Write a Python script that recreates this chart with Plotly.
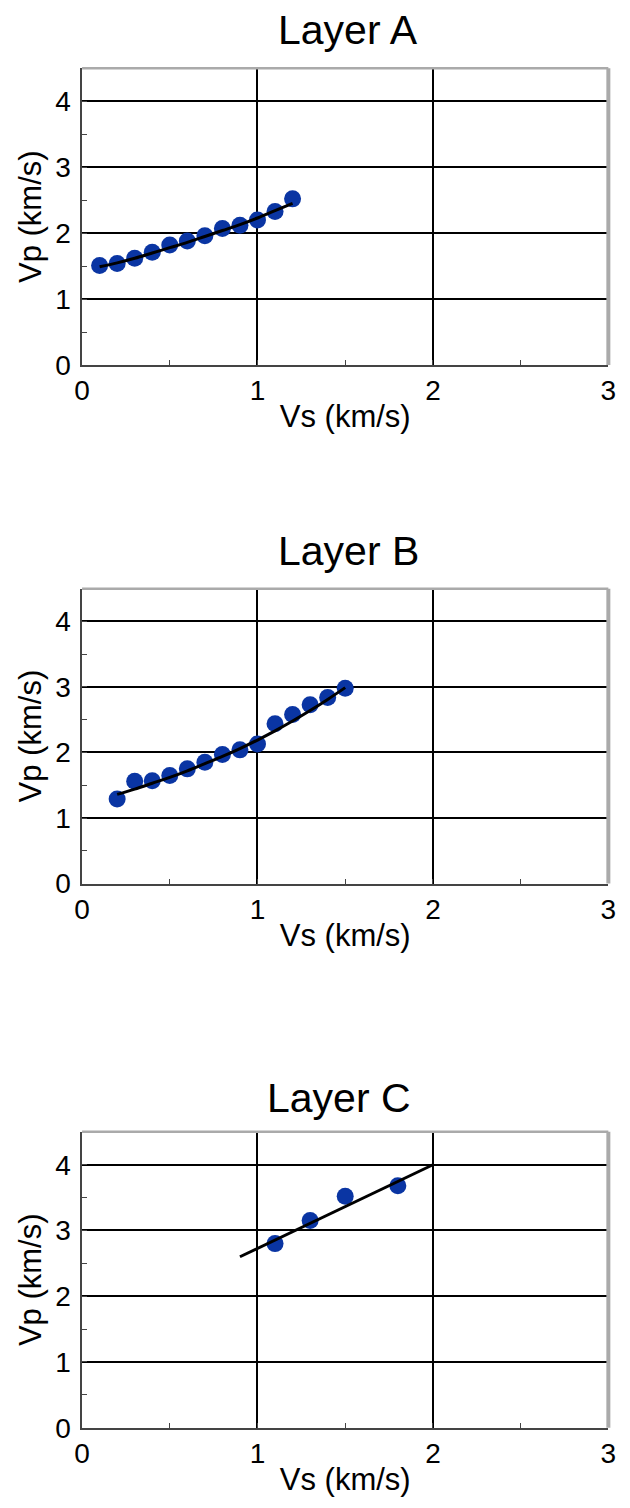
import plotly.graph_objects as go
from plotly.subplots import make_subplots

# ---- data ----
layer_names = ["Layer A", "Layer B", "Layer C"]

vs_a = [0.1, 0.2, 0.3, 0.4, 0.5, 0.6, 0.7, 0.8, 0.9, 1.0, 1.1, 1.2]
vp_a = [1.51, 1.54, 1.62, 1.71, 1.82, 1.88, 1.96, 2.07, 2.12, 2.20, 2.33, 2.52]
fit_vs_a = [0.1, 0.2, 0.3, 0.4, 0.5, 0.6, 0.7, 0.8, 0.9, 1.0, 1.1, 1.2]
fit_vp_a = [1.49, 1.55, 1.62, 1.70, 1.78, 1.86, 1.95, 2.04, 2.13, 2.23, 2.34, 2.45]

vs_b = [0.2, 0.3, 0.4, 0.5, 0.6, 0.7, 0.8, 0.9, 1.0, 1.1, 1.2, 1.3, 1.4, 1.5]
vp_b = [1.29, 1.56, 1.57, 1.65, 1.75, 1.85, 1.97, 2.04, 2.13, 2.44, 2.58, 2.73, 2.84, 2.98]
fit_vs_b = [0.2, 0.3, 0.4, 0.5, 0.6, 0.7, 0.8, 0.9, 1.0, 1.1, 1.2, 1.3, 1.4, 1.5]
fit_vp_b = [1.36, 1.44, 1.53, 1.62, 1.72, 1.83, 1.94, 2.06, 2.19, 2.33, 2.48, 2.64, 2.81, 2.99]

vs_c = [1.1, 1.3, 1.5, 1.8]
vp_c = [2.80, 3.15, 3.52, 3.68]
fit_vs_c = [0.9, 2.0]
fit_vp_c = [2.60, 4.00]

x_range = [0, 3]
y_range = [0, 4.5]
x_ticks = [0, 1, 2, 3]
y_ticks = [0, 1, 2, 3, 4]
x_title = "Vs (km/s)"
y_title = "Vp (km/s)"

W, H = 630, 1508
FONT = "Liberation Sans, Arial, Helvetica, sans-serif"
MARK = "#0a35a3"
AXC = "#444444"

# plot-area pixel boxes (top, bottom), title centre x, title gap
boxes = [(69, 369), (595, 893), (1144, 1443)]
title_cx = [349, 349, 340]
title_shift = [13, 13, 9]
x_left, x_right = 76, 616

fig = make_subplots(rows=3, cols=1)

series = [(vs_a, vp_a, fit_vs_a, fit_vp_a),
          (vs_b, vp_b, fit_vs_b, fit_vp_b),
          (vs_c, vp_c, fit_vs_c, fit_vp_c)]

for i, (sx, sy, fx, fy) in enumerate(series):
    r = i + 1
    fig.add_trace(go.Scatter(x=sx, y=sy, mode="markers",
                             marker=dict(color=MARK, size=17, line=dict(width=0)),
                             showlegend=False, hoverinfo="skip", cliponaxis=False), row=r, col=1)
    fig.add_trace(go.Scatter(x=fx, y=fy, mode="lines",
                             line=dict(color="black", width=3, shape="spline"),
                             showlegend=False, hoverinfo="skip"), row=r, col=1)

annotations = []
shapes = []
for i, (top, bot) in enumerate(boxes):
    r = i + 1
    dom_y = [1 - bot / H, 1 - top / H]
    dom_x = [x_left / W, x_right / W]
    xa = "xaxis" if r == 1 else f"xaxis{r}"
    ya = "yaxis" if r == 1 else f"yaxis{r}"
    fig.layout[xa].update(
        domain=dom_x, range=x_range, tickvals=x_ticks, ticktext=[str(v) for v in x_ticks],
        showgrid=True, gridcolor="black", gridwidth=2, zeroline=False,
        showline=True, linecolor=AXC, linewidth=1.5,
        ticks="inside", ticklen=5, tickcolor=AXC, tickwidth=1.2,
        minor=dict(dtick=0.5, ticks="inside", ticklen=5, tickcolor=AXC, tickwidth=1.2, showgrid=False),
        tickfont=dict(family=FONT, size=28, color="black"),
        ticklabelstandoff=0,
        title=dict(text=x_title, font=dict(family=FONT, size=31, color="black"), standoff=0),
        fixedrange=True,
    )
    fig.layout[ya].update(
        domain=dom_y, range=y_range, tickvals=y_ticks, ticktext=[str(v) for v in y_ticks],
        showgrid=True, gridcolor="black", gridwidth=2, zeroline=False,
        showline=True, linecolor=AXC, linewidth=1.5,
        ticks="inside", ticklen=5, tickcolor=AXC, tickwidth=1.2,
        minor=dict(dtick=0.5, ticks="inside", ticklen=5, tickcolor=AXC, tickwidth=1.2, showgrid=False),
        tickfont=dict(family=FONT, size=28, color="black"),
        ticklabelstandoff=4,
        title=dict(text=y_title, font=dict(family=FONT, size=31, color="black"), standoff=4),
        fixedrange=True,
    )
    xref = "x" if r == 1 else f"x{r}"
    yref = "y" if r == 1 else f"y{r}"
    # light grey top/right frame
    shapes.append(dict(type="line", xref=f"{xref} domain", yref=f"{yref} domain",
                       x0=0, x1=1, y0=1, y1=1, line=dict(color="#aaaaaa", width=2.5), layer="above"))
    shapes.append(dict(type="line", xref=f"{xref} domain", yref=f"{yref} domain",
                       x0=1, x1=1, y0=0, y1=1, line=dict(color="#aaaaaa", width=4), layer="above"))
    annotations.append(dict(text=layer_names[i], xref="paper", yref="paper",
                            x=title_cx[i] / W, y=dom_y[1], xanchor="center", yanchor="bottom",
                            yshift=title_shift[i], showarrow=False,
                            font=dict(family=FONT, size=41, color="black")))

fig.update_layout(
    width=W, height=H,
    margin=dict(l=0, r=0, t=0, b=0),
    paper_bgcolor="white", plot_bgcolor="white",
    annotations=annotations, shapes=shapes,
    font=dict(family=FONT, color="black"),
    showlegend=False,
)

fig.write_html("out.html", config={"displayModeBar": False})
